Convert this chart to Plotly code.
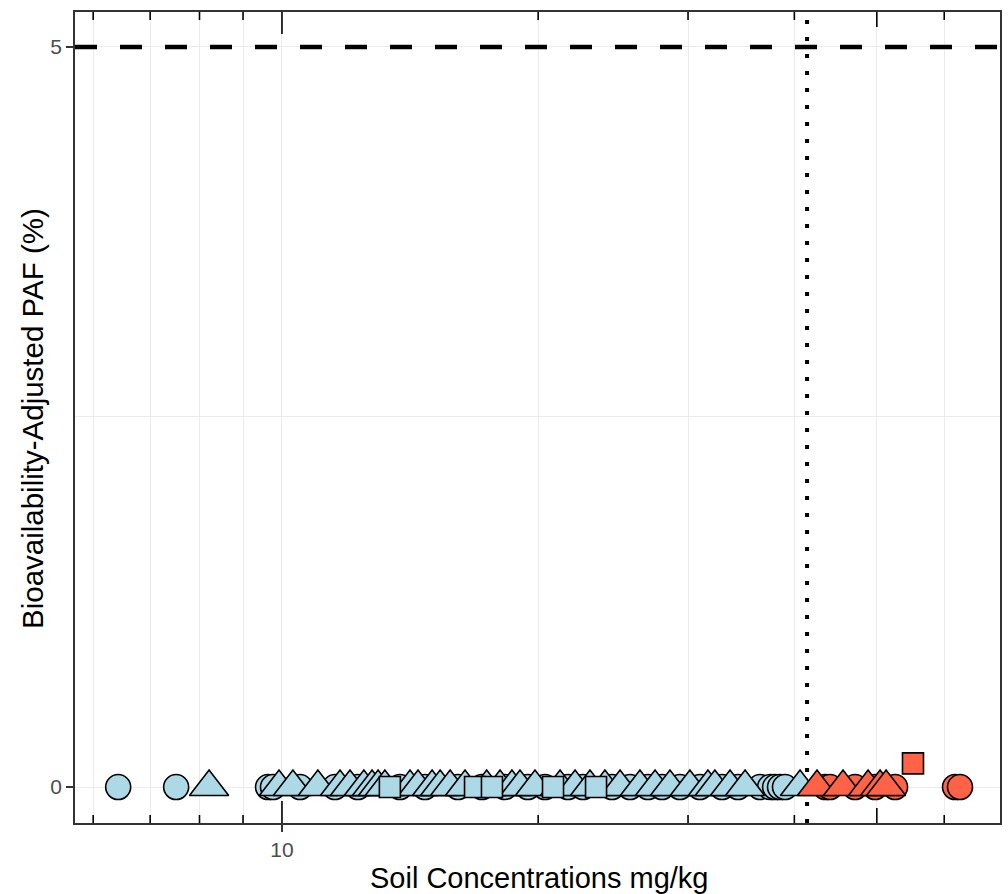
import plotly.graph_objects as go

# ---- data ----
blue_circle_x = [6.42, 7.51, 9.63, 9.76, 10.50, 11.54, 12.28, 13.76, 14.72, 16.10, 17.18,
                 18.28, 19.45, 20.37, 21.68, 22.58, 24.42, 25.64, 26.92, 27.96, 29.35,
                 30.98, 32.89, 34.35, 36.46, 37.46, 37.97, 38.48, 39.00]
red_circle_x = [43.5, 44.05, 47.14, 49.76, 52.53, 61.78, 62.62]
circle_y_blue = [0] * len(blue_circle_x)
circle_y_red = [0] * len(red_circle_x)

blue_tri_x = [8.21, 9.92, 10.30, 11.02, 11.70, 12.02, 12.48, 12.76, 12.97, 13.21, 14.14,
              14.45, 15.01, 15.34, 15.76, 16.41, 17.40, 18.04, 18.63, 19.04, 19.83,
              21.22, 22.10, 23.01, 23.96, 24.96, 26.34, 27.44, 28.57, 30.15, 31.66,
              32.26, 33.61, 35.01, 40.62]
red_tri_x = [42.53, 45.63, 48.83, 50.44, 51.27]

blue_sq_x = [13.39, 16.86, 17.65, 20.82, 23.39]
red_sq_x = [55.14]
blue_sq_y = [0, 0, 0, 0, 0]
red_sq_y = [0.16]

threshold_x = 41.4
threshold_y = 5

x_tick_vals = [10]
x_tick_text = ["10"]
x_minor_vals = [6, 7, 8, 9, 20, 30, 40, 50, 60, 70]
logtick_vals = [6, 7, 8, 9, 10, 20, 30, 40, 50, 60, 70]
y_tick_vals = [0, 5]

BLUE = "#ADD8E6"
RED = "#FF6347"

fig = go.Figure()

def add(xs, ys, symbol, size, color):
    fig.add_trace(go.Scatter(
        x=xs, y=ys, mode="markers", showlegend=False, cliponaxis=False,
        marker=dict(symbol=symbol, size=size, color=color,
                    line=dict(color="black", width=1.6)),
    ))

add(blue_circle_x, circle_y_blue, "circle", 25, BLUE)
add(red_circle_x, circle_y_red, "circle", 25, RED)
add(blue_tri_x, [0] * len(blue_tri_x), "triangle-up", 34, BLUE)
add(red_tri_x, [0] * len(red_tri_x), "triangle-up", 34, RED)
add(blue_sq_x, blue_sq_y, "square", 21, BLUE)
add(red_sq_x, red_sq_y, "square", 21, RED)

shapes = []
# threshold lines
shapes.append(dict(type="line", xref="paper", yref="y", x0=0, x1=1,
                   y0=threshold_y, y1=threshold_y, layer="above",
                   line=dict(color="black", width=4.5, dash="22px,23px")))
shapes.append(dict(type="line", xref="x", yref="paper", x0=threshold_x, x1=threshold_x,
                   y0=0, y1=1, layer="below",
                   line=dict(color="black", width=4, dash="4px,13px")))
# log ticks on top and bottom (inside)
ph = 811.0
for v in logtick_vals:
    if v == 10:
        L = 22
    elif v == 50:
        L = 15
    else:
        L = 8
    shapes.append(dict(type="line", xref="x", yref="paper", x0=v, x1=v,
                       y0=0, y1=L / ph, layer="above",
                       line=dict(color="black", width=1.6)))
    shapes.append(dict(type="line", xref="x", yref="paper", x0=v, x1=v,
                       y0=1, y1=1 - L / ph, layer="above",
                       line=dict(color="black", width=1.6)))

annotations = [
    dict(text="Soil Concentrations mg/kg", xref="paper", yref="paper",
         x=(539 - 75) / 925.0, y=-(878 - 823) / 811.0, xanchor="center", yanchor="middle",
         showarrow=False, font=dict(size=29, color="black")),
    dict(text="Bioavailability-Adjusted PAF (%)", xref="paper", yref="paper",
         x=(32 - 75) / 925.0, y=(823 - 419) / 811.0, xanchor="center", yanchor="middle",
         textangle=-90, showarrow=False, font=dict(size=29.5, color="black")),
]

fig.update_layout(
    width=1008, height=894,
    margin=dict(l=75, r=8, t=12, b=71),
    paper_bgcolor="white", plot_bgcolor="white",
    font=dict(family="Liberation Sans, Arial, sans-serif", color="black"),
    shapes=shapes,
    annotations=annotations,
    xaxis=dict(
        type="log", range=[0.7568, 1.8437], automargin=False,
        tickvals=x_tick_vals, ticktext=x_tick_text,
        ticks="outside", ticklen=7, tickwidth=1.5, tickcolor="#333333",
        tickfont=dict(size=21, color="#4D4D4D"),
        showgrid=True, gridcolor="#EBEBEB", gridwidth=1.2,
        minor=dict(tickvals=x_minor_vals, ticks="", showgrid=True,
                   gridcolor="#EBEBEB", gridwidth=1.2),
        showline=True, mirror=True, linecolor="#333333", linewidth=1.6,
        zeroline=False,
    ),
    yaxis=dict(
        range=[-0.243, 5.236], automargin=False,
        tickvals=y_tick_vals, ticktext=["0", "5"],
        ticks="outside", ticklen=7, tickwidth=1.5, tickcolor="#333333",
        tickfont=dict(size=21, color="#4D4D4D"),
        showgrid=True, gridcolor="#EBEBEB", gridwidth=1.2,
        minor=dict(tickvals=[2.5], ticks="", showgrid=True,
                   gridcolor="#EBEBEB", gridwidth=0.8),
        showline=True, mirror=True, linecolor="#333333", linewidth=1.6,
        zeroline=False,
    ),
)

fig.write_html("out.html", config={"displayModeBar": False},
               post_script="document.body.style.margin='0';document.body.style.overflow='hidden';")
